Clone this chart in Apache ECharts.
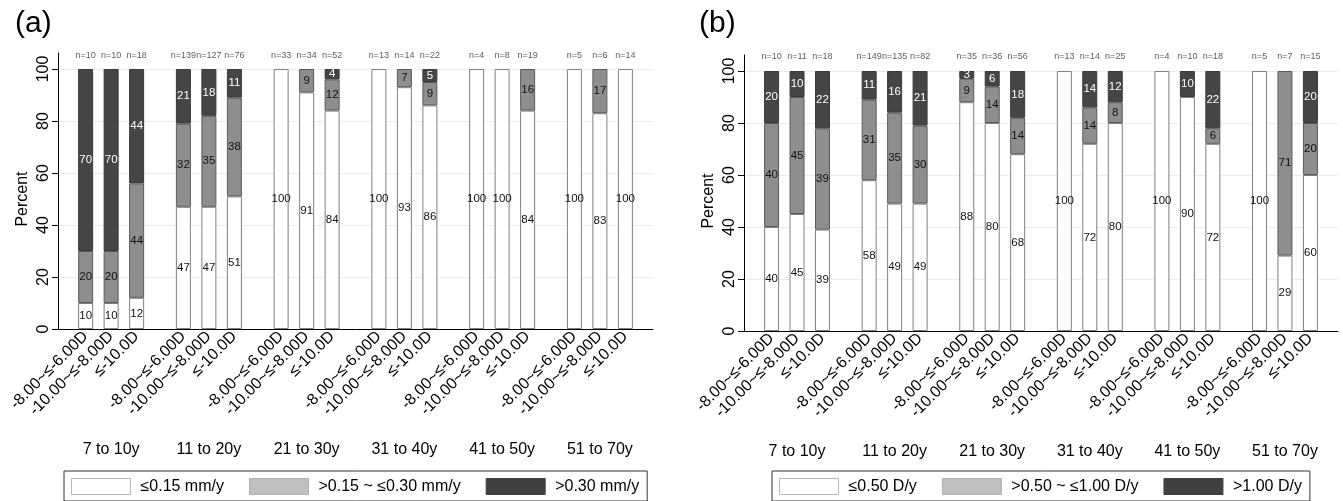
<!DOCTYPE html>
<html>
<head>
<meta charset="utf-8">
<script src="https://cdn.jsdelivr.net/npm/echarts@6/dist/echarts.min.js"></script>
<style>
html,body{margin:0;padding:0;background:#fff;}
#chart{width:1343px;height:501px;}
</style>
</head>
<body>
<div id="chart"></div>
<script>
// ---- data ----
const ageGroups = ['7 to 10y', '11 to 20y', '21 to 30y', '31 to 40y', '41 to 50y', '51 to 70y'];
const refractionGroups = ['-8.00~≤-6.00D', '-10.00~≤-8.00D', '≤-10.0D'];
const yTicks = [0, 20, 40, 60, 80, 100];

// Panel (a): axial length progression
const aNames = ['≤0.15 mm/y', '>0.15 ~ ≤0.30 mm/y', '>0.30 mm/y'];
const aLow  = [10, 10, 12,  47, 47, 51,  100, 91, 84,  100, 93, 86,  100, 100, 84,  100, 83, 100];
const aMid  = [20, 20, 44,  32, 35, 38,  0, 9, 12,     0, 7, 9,      0, 0, 16,      0, 17, 0];
const aHigh = [70, 70, 44,  21, 18, 11,  0, 0, 4,      0, 0, 5,      0, 0, 0,       0, 0, 0];
const aN    = [10, 10, 18,  139, 127, 76, 33, 34, 52,  13, 14, 22,   4, 8, 19,      5, 6, 14];

// Panel (b): spherical equivalent progression
const bNames = ['≤0.50 D/y', '>0.50 ~ ≤1.00 D/y', '>1.00 D/y'];
const bLow  = [40, 45, 39,  58, 49, 49,  88, 80, 68,  100, 72, 80,  100, 90, 72,  100, 29, 60];
const bMid  = [40, 45, 39,  31, 35, 30,  9, 14, 14,   0, 14, 8,     0, 0, 6,       0, 71, 20];
const bHigh = [20, 10, 22,  11, 16, 21,  3, 6, 18,    0, 14, 12,    0, 10, 22,     0, 0, 20];
const bN    = [10, 11, 18,  149, 135, 82, 35, 36, 56, 13, 14, 25,   4, 10, 18,     5, 7, 15];

// ---- layout helpers (slot positions on a fine category axis) ----
const PAD = 6, GROUP_STEP = 23, BAR_STEP = 6, NCAT = 140;
const slotOf = i => PAD + GROUP_STEP * Math.floor(i / 3) + BAR_STEP * (i % 3);
function spread(values) {
  const arr = new Array(NCAT).fill(null);
  values.forEach((v, i) => { arr[slotOf(i)] = v === 0 ? null : v; });
  return arr;
}
const catLabels = new Array(NCAT).fill('');
const groupLabels = new Array(NCAT).fill('');
for (let i = 0; i < ageGroups.length * 3; i++) catLabels[slotOf(i)] = refractionGroups[i % 3];
ageGroups.forEach((g, k) => { groupLabels[slotOf(k * 3 + 1)] = g; });
const cats = catLabels.map((l, i) => ({value: 'c' + i, label: l}));

const FONT = 'Liberation Sans, Arial, sans-serif';
const fills = [
  {color: '#ffffff', borderColor: '#808080'},
  {color: '#8e8e8e', borderColor: '#5a5a5a'},
  {color: '#454545', borderColor: '#3a3a3a'}
];
const legendFills = [
  {color: '#ffffff', borderColor: '#b8b8b8', borderWidth: 1},
  {color: '#bfbfbf', borderColor: '#b0b0b0', borderWidth: 1},
  {color: '#404040', borderColor: '#404040', borderWidth: 1}
];
const labelColors = ['#111', '#111', '#fff'];

const panels = [
  {left: 58, top: 69, width: 595, height: 260, names: aNames, vals: [aLow, aMid, aHigh], n: aN, nDist: 8, title: '(a)', titleLeft: 10, legendLeft: 64},
  {left: 744, top: 71, width: 594, height: 260, names: bNames, vals: [bLow, bMid, bHigh], n: bN, nDist: 9, title: '(b)', titleLeft: 694, legendLeft: 772}
];

const option = {
  backgroundColor: '#fff',
  animation: false,
  textStyle: {fontFamily: FONT},
  title: [], grid: [], xAxis: [], yAxis: [], legend: [], series: []
};

panels.forEach((p, k) => {
  option.title.push({text: p.title, left: p.titleLeft, top: 4, textStyle: {fontSize: 30, fontWeight: 'normal', color: '#000', fontFamily: FONT}});
  // main grid
  option.grid.push({left: p.left, top: p.top, width: p.width, height: p.height, containLabel: false});
  // extension grid for the taller y-axis line
  option.grid.push({left: p.left, top: p.top - 16, width: p.width, height: p.height + 16, containLabel: false});
  const gMain = k * 2, gExt = k * 2 + 1;
  const xMain = option.xAxis.length;
  option.xAxis.push({
    type: 'category', gridIndex: gMain, data: cats, boundaryGap: true,
    axisLine: {show: true, lineStyle: {color: '#000', width: 1}},
    axisTick: {show: false},
    axisLabel: {interval: 0, rotate: 45, margin: 5, fontSize: 16, color: '#000', fontFamily: FONT,
      formatter: (v, i) => catLabels[i]}
  });
  option.xAxis.push({
    type: 'category', gridIndex: gMain, data: cats, position: 'bottom', offset: 113,
    axisLine: {show: false}, axisTick: {show: false},
    axisLabel: {interval: 0, margin: 0, fontSize: 16, color: '#000', fontFamily: FONT,
      formatter: (v, i) => groupLabels[i]}
  });
  option.xAxis.push({type: 'value', gridIndex: gExt, show: false});
  const yMain = option.yAxis.length;
  option.yAxis.push({
    type: 'value', gridIndex: gMain, min: yTicks[0], max: yTicks[yTicks.length - 1], interval: yTicks[1] - yTicks[0],
    name: 'Percent', nameLocation: 'middle', nameGap: 27, nameRotate: 90,
    nameTextStyle: {fontSize: 16, color: '#000', fontFamily: FONT},
    axisLine: {show: true, lineStyle: {color: '#000', width: 1}},
    axisTick: {show: true, length: 6, lineStyle: {color: '#000'}},
    axisLabel: {rotate: 90, margin: 6, fontSize: 16, color: '#000', fontFamily: FONT},
    splitLine: {show: true, lineStyle: {color: '#e6eef0', width: 1}}
  });
  option.yAxis.push({
    type: 'value', gridIndex: gExt, min: 0, max: 1,
    axisLine: {show: true, lineStyle: {color: '#000', width: 1}},
    axisTick: {show: false}, axisLabel: {show: false}, splitLine: {show: false}
  });

  option.legend.push({
    left: p.legendLeft, top: 471, orient: 'horizontal',
    borderColor: '#333', borderWidth: 1, borderRadius: 0,
    padding: [7, 8, 6, 7], itemWidth: 59, itemHeight: 16, itemGap: 25,
    icon: 'rect',
    textStyle: {fontSize: 16, color: '#000', fontFamily: FONT, padding: [0, 0, 0, 5]},
    data: p.names.map((nm, j) => ({name: nm, itemStyle: legendFills[j]}))
  });

  p.vals.forEach((arr, j) => {
    option.series.push({
      name: p.names[j], type: 'bar', stack: 'panel' + k,
      xAxisIndex: xMain, yAxisIndex: yMain,
      barWidth: 15,
      data: spread(arr),
      itemStyle: {color: fills[j].color, borderColor: fills[j].borderColor, borderWidth: 1},
      label: {show: true, position: 'inside', fontSize: 11.5, color: labelColors[j], fontFamily: FONT,
        formatter: q => q.value == null ? '' : String(q.value)},
      emphasis: {disabled: true}
    });
  });
  // n= labels on top of each bar
  const nData = p.n.map((nv, i) => [slotOf(i), p.vals[0][i] + p.vals[1][i] + p.vals[2][i], nv]);
  option.series.push({
    type: 'scatter', xAxisIndex: xMain, yAxisIndex: yMain,
    symbolSize: 1, itemStyle: {color: 'rgba(0,0,0,0)'},
    data: nData,
    label: {show: true, position: 'top', distance: p.nDist, fontSize: 9, color: '#333', fontFamily: FONT,
      formatter: q => 'n=' + q.value[2]},
    emphasis: {disabled: true}, silent: true
  });
});

const chart = echarts.init(document.getElementById('chart'), null, {renderer: 'canvas'});
chart.setOption(option);
</script>
</body>
</html>
